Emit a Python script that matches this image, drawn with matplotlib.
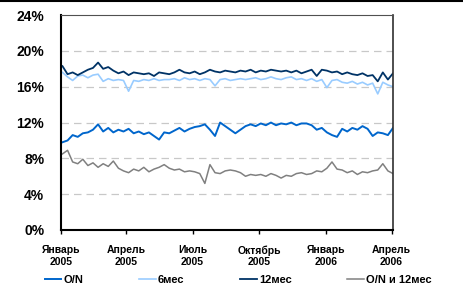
import matplotlib
matplotlib.use("Agg")
import matplotlib.pyplot as plt
from matplotlib.lines import Line2D
from matplotlib.ticker import FuncFormatter
import pandas as pd

plt.rcParams['font.family'] = ['Liberation Sans', 'DejaVu Sans']

# weekly readings, Jan 2005 - Apr 2006
dates = pd.date_range('2005-01-03', periods=66, freq='W-MON')

on_rate = [9.8, 10.0, 10.6, 10.4, 10.8, 10.9, 11.2, 11.8, 11.0, 11.4,
           10.9, 11.2, 11.0, 11.3, 10.8, 11.0, 10.7, 10.9, 10.5, 10.1,
           10.9, 10.8, 11.1, 11.4, 11.0, 11.3, 11.5, 11.6, 11.8, 11.2,
           10.5, 12.0, 11.6, 11.2, 10.8, 11.2, 11.6, 11.8, 11.6, 11.9,
           11.7, 12.0, 11.7, 11.9, 11.8, 12.0, 11.7, 11.9, 11.9, 11.7,
           11.2, 11.4, 10.9, 10.6, 10.4, 11.3, 11.0, 11.4, 11.2, 11.6,
           11.3, 10.5, 10.9, 10.8, 10.6, 11.4]

m6_rate = [17.6, 17.1, 16.7, 17.2, 17.3, 17.0, 17.3, 17.4, 16.6, 16.9,
           16.7, 16.8, 16.7, 15.5, 16.7, 16.6, 16.8, 16.7, 16.9, 16.7,
           16.8, 16.8, 16.9, 16.7, 17.0, 16.8, 16.9, 16.7, 16.9, 16.8,
           16.1, 16.8, 16.9, 16.7, 16.8, 16.9, 16.8, 16.9, 17.0, 16.8,
           16.9, 17.1, 16.9, 16.8, 17.0, 17.1, 16.8, 16.9, 16.7, 16.9,
           16.6, 16.8, 15.9, 16.7, 16.8, 16.5, 16.4, 16.6, 16.3, 16.5,
           16.2, 16.4, 15.2, 16.5, 16.2, 16.0]

m12_rate = [18.3, 17.4, 17.6, 17.3, 17.6, 17.9, 18.1, 18.7, 18.0, 18.2,
            17.8, 17.5, 17.7, 17.3, 17.6, 17.5, 17.4, 17.5, 17.2, 17.6,
            17.5, 17.4, 17.6, 17.9, 17.6, 17.5, 17.7, 17.4, 17.6, 17.9,
            17.7, 17.6, 17.8, 17.7, 17.6, 17.8, 17.7, 17.9, 17.6, 17.8,
            17.7, 17.9, 17.8, 17.7, 17.8, 17.6, 17.8, 17.5, 17.7, 17.9,
            17.2, 17.9, 17.8, 17.6, 17.7, 17.4, 17.6, 17.4, 17.3, 17.5,
            17.2, 17.3, 16.6, 17.6, 16.8, 17.5]

spread = [8.5, 8.9, 7.6, 7.4, 7.9, 7.2, 7.5, 7.0, 7.4, 7.1,
          7.7, 6.9, 6.6, 6.4, 6.8, 6.6, 7.0, 6.5, 6.8, 7.0,
          7.3, 6.9, 6.7, 6.8, 6.5, 6.6, 6.5, 6.3, 5.2, 7.3,
          6.4, 6.3, 6.6, 6.7, 6.6, 6.4, 6.0, 6.2, 6.1, 6.2,
          6.0, 6.3, 6.1, 5.8, 6.1, 6.0, 6.3, 6.4, 6.2, 6.3,
          6.6, 6.5, 6.9, 7.6, 6.8, 6.7, 6.4, 6.6, 6.2, 6.5,
          6.4, 6.6, 6.7, 7.4, 6.6, 6.3]

series_names = ['O/N', '6мес', '12мес', 'O/N и 12мес']
colors = ['#0066CC', '#99CCFF', '#003366', '#808080']

tick_dates = pd.to_datetime(['2005-01-01', '2005-04-01', '2005-07-01',
                             '2005-10-01', '2006-01-01', '2006-04-01'])
tick_labels = ['Январь\n2005', 'Апрель\n2005', 'Июль\n2005',
               'Октябрь\n2005', 'Январь\n2006', 'Апрель\n2006']

fig = plt.figure(figsize=(4.63, 2.85), dpi=100)
ax = fig.add_axes([0.1318, 0.193, 0.717, 0.754])

widths = [1.4, 1.2, 1.3, 1.1]
for vals, name, c, lw in zip([on_rate, m6_rate, m12_rate, spread],
                             series_names, colors, widths):
    ax.plot(dates, vals, color=c, lw=lw, label=name)

ax.set_ylim(0, 24)
ax.set_yticks(range(0, 25, 4))
ax.yaxis.set_major_formatter(FuncFormatter(lambda v, p: '%d%%' % v))
ax.set_xlim(pd.Timestamp('2005-01-01'), pd.Timestamp('2006-04-03'))
ax.set_xticks(tick_dates)
ax.set_xticklabels(tick_labels)

for y in range(4, 24, 4):
    ax.axhline(y, color='#C8C8C8', lw=0.9, dashes=(6, 4), zorder=0)

for lbl in ax.get_yticklabels():
    lbl.set_fontsize(10)
    lbl.set_fontweight('bold')
for lbl in ax.get_xticklabels():
    lbl.set_fontsize(7.5)
    lbl.set_fontweight('bold')
    lbl.set_linespacing(1.2)

ax.tick_params(axis='y', length=0, pad=12)
ax.tick_params(axis='x', length=3, width=1, direction='out', pad=8)

ax.spines['left'].set_linewidth(1.5)
ax.spines['bottom'].set_linewidth(1.5)
ax.spines['top'].set_color('#505050')
ax.spines['top'].set_linewidth(0.8)
ax.spines['right'].set_color('#303030')
ax.spines['right'].set_linewidth(1.2)

fig.legend(loc='lower left', bbox_to_anchor=(0.075, -0.035), ncol=4,
           frameon=False, prop={'weight': 'bold', 'size': 8},
           handlelength=1.5, handletextpad=0.2, columnspacing=5.0)

# top border line of the picture
fig.add_artist(Line2D([0, 1], [0.998, 0.998], color='black', lw=1.5,
                      transform=fig.transFigure))

fig.savefig('out.png', dpi=100)
